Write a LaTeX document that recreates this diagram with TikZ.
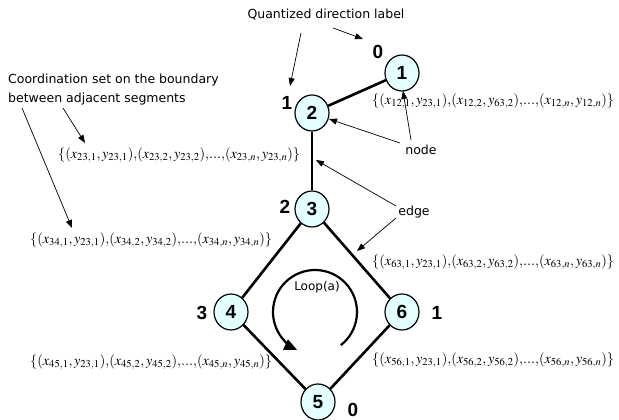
\documentclass[tikz,border=0pt]{standalone}
\usepackage{mathptmx}
\usepackage[no-math]{fontspec}
\newfontfamily\annotfont{DejaVu Sans}
\newfontfamily\numfont{Liberation Sans}
\usetikzlibrary{arrows.meta,shapes.geometric}
\definecolor{nodefill}{RGB}{228,255,255}
\newcommand{\cset}[7]{$\{(x_{#1,1},y_{#2,1}){,}(x_{#1,2},y_{#3,2}){,}\mathord{.}\mathord{.}\mathord{.}{,}(x_{#1,n},y_{#1,n})\}$}
\tikzset{
  gnode/.style={ellipse, draw, line width=1.2pt, fill=nodefill, minimum width=34pt, minimum height=36pt, inner sep=0pt, font=\numfont\bfseries\fontsize{19}{19}\selectfont},
  dirlabel/.style={font=\numfont\bfseries\fontsize{19}{19}\selectfont, inner sep=0pt},
  annot/.style={font=\annotfont\fontsize{12.5}{15}\selectfont, inner sep=0pt},
  coordset/.style={font=\fontsize{14.3}{16}\selectfont, inner sep=0pt, anchor=west},
  edgeline/.style={line width=2.6pt},
  pointer/.style={line width=0.7pt, -{Triangle[length=8pt,width=6pt]}},
  loopline/.style={line width=2.2pt, -{Triangle[length=13pt,width=11pt]}}
}
\begin{document}
\begin{tikzpicture}[x=1pt,y=-1pt]
\useasboundingbox (0,0) rectangle (619,420);
% graph nodes
\node[gnode] (n1) at (402,73) {1};
\node[gnode] (n2) at (312,113) {2};
\node[gnode] (n3) at (312,209) {3};
\node[gnode] (n4) at (231,312) {4};
\node[gnode] (n5) at (318,402) {5};
\node[gnode] (n6) at (402,312) {6};
% edges
\draw[edgeline] (n2) -- (n1);
\draw[edgeline] (n2) -- (n3);
\draw[edgeline] (n3) -- (n4);
\draw[edgeline] (n3) -- (n6);
\draw[edgeline] (n4) -- (n5);
\draw[edgeline] (n6) -- (n5);
% direction labels
\node[dirlabel] (l1) at (378,52) {0};
\node[dirlabel] (l2) at (287,103) {1};
\node[dirlabel] (l3) at (285,207) {2};
\node[dirlabel] (l4) at (202,313) {3};
\node[dirlabel] (l6) at (437,313) {1};
\node[dirlabel] (l5) at (353,410) {0};
% annotations
\node[annot] (qlabel) at (326,15) {Quantized direction label};
\node[annot, anchor=west] (coordA) at (8,80) {Coordination set on the boundary};
\node[annot, anchor=west] (coordB) at (8,99) {between adjacent segments};
\node[annot] (nodelbl) at (421,150) {node};
\node[annot] (edgelbl) at (414,212) {edge};
\node[annot, font=\annotfont\fontsize{12}{14}\selectfont] (loop) at (317,287) {Loop(a)};
% coordinate sets
\node[coordset] (s12) at (372,101) {\cset{12}{23}{63}{}{}{}{}};
\node[coordset] (s23) at (58,155) {\cset{23}{23}{23}{}{}{}{}};
\node[coordset] (s34) at (30,240) {\cset{34}{23}{34}{}{}{}{}};
\node[coordset] (s63) at (372,262) {\cset{63}{23}{63}{}{}{}{}};
\node[coordset] (s45) at (30,362) {\cset{45}{23}{45}{}{}{}{}};
\node[coordset] (s56) at (372,360) {\cset{56}{23}{56}{}{}{}{}};
% pointer ends
\coordinate (qa) at (301,33);
\coordinate (qaend) at (290,86);
\coordinate (qb) at (333,28);
\coordinate (qbend) at (363,39);
\coordinate (ca) at (22,108);
\coordinate (caend) at (72,228);
\coordinate (cb) at (63,108);
\coordinate (cbend) at (85,143);
\coordinate (na) at (411,140);
\coordinate (naend) at (403,91);
\coordinate (nb) at (400,143);
\coordinate (nbend) at (329,119);
\coordinate (ea) at (396,206);
\coordinate (eaend) at (316,160);
\coordinate (eb) at (396,218);
\coordinate (ebend) at (357,251);
\draw[pointer] (qa) -- (qaend);
\draw[pointer] (qb) -- (qbend);
\draw[pointer] (ca) -- (caend);
\draw[pointer] (cb) -- (cbend);
\draw[pointer] (na) -- (naend);
\draw[pointer] (nb) -- (nbend);
\draw[pointer] (ea) -- (eaend);
\draw[pointer] (eb) -- (ebend);
% loop arrow
\coordinate (loopc) at (315,312);
\draw[loopline] (loopc) ++(52:42) arc[start angle=52, end angle=-245, radius=42];
\end{tikzpicture}
\end{document}
